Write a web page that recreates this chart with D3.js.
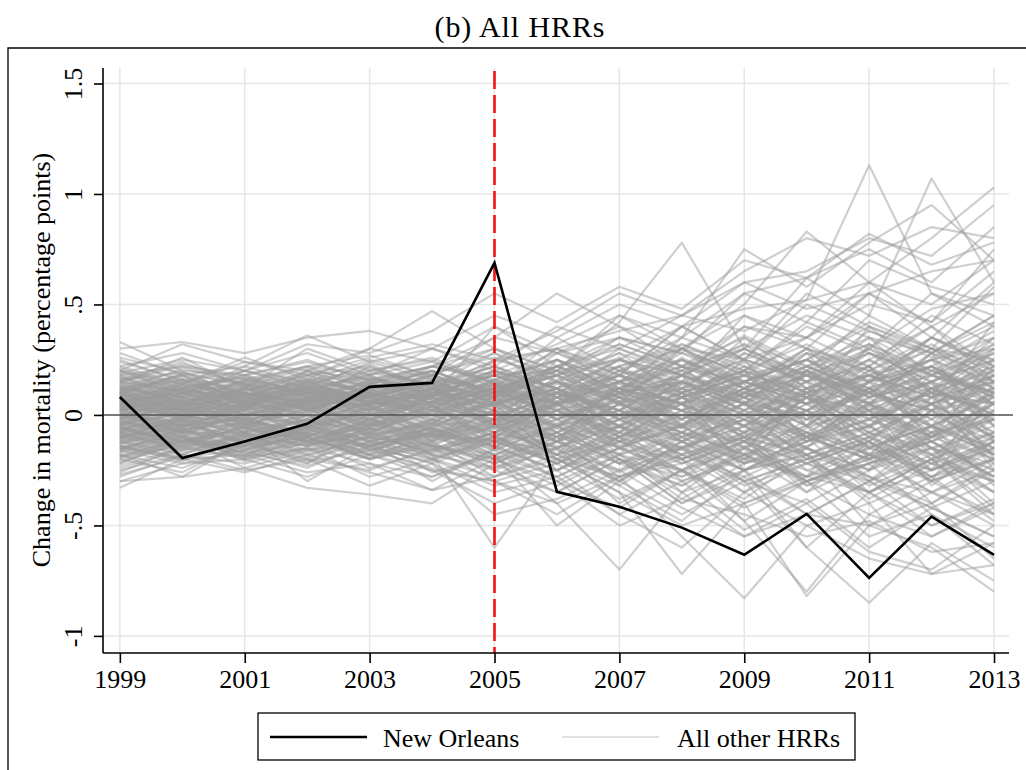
<!DOCTYPE html>
<html><head><meta charset="utf-8">
<script src="https://cdn.jsdelivr.net/npm/d3@7"></script>
<style>body{margin:0;background:#fff}svg{display:block}text{font-family:"Liberation Serif","Times New Roman",serif;fill:#000}</style>
</head><body><svg id="c" width="1026" height="770"></svg>
<script>
const years = [1999,2000,2001,2002,2003,2004,2005,2006,2007,2008,2009,2010,2011,2012,2013];
const xTicks = [1999,2001,2003,2005,2007,2009,2011,2013];
const yTicks = [-1,-0.5,0,0.5,1,1.5];
const yTickLabels = ["-1","-.5","0",".5","1","1.5"];
const eventYear = 2005;
const newOrleans = [.081,-.195,-.12,-.04,.127,.145,.688,-.348,-.416,-.51,-.633,-.448,-.738,-.46,-.633];
const otherHRRs = [
[.05,-.02,.08,.03,-.06,.10,.04,-.12,.15,.08,-.05,.20,.12,-.08,.18],
[-.10,-.04,-.12,.02,.06,-.03,-.15,.10,-.05,.22,.14,-.10,.05,.28,-.12],
[.12,.18,.05,.14,.08,.02,.16,.25,.10,.30,.18,.35,.22,.40,.15],
[-.05,-.12,-.02,-.08,-.14,-.06,-.20,-.15,-.30,-.12,-.25,-.18,-.38,-.22,-.30],
[.02,.07,-.04,.10,.00,.06,-.02,.05,-.10,.08,-.15,.02,.10,-.05,.25],
[-.15,-.08,-.18,-.05,-.12,-.20,-.10,-.22,-.05,-.30,-.18,-.10,-.35,-.20,-.45],
[.20,.10,.15,.22,.12,.18,.30,.15,.28,.10,.35,.20,.45,.30,.25],
[.00,-.05,.03,-.10,.05,-.08,.02,-.18,.10,-.05,.20,-.12,.08,.15,-.20],
[-.08,.04,-.06,.08,-.02,.12,-.05,.18,-.10,.05,-.22,.12,-.08,-.30,.10],
[.08,.14,.10,.05,.16,.08,.20,.05,.18,-.02,.12,.30,.05,.22,.38],
[-.20,-.12,-.15,-.22,-.08,-.18,-.25,-.35,-.20,-.40,-.28,-.45,-.30,-.50,-.38],
[.15,.05,.12,.18,.22,.10,.08,.28,.40,.22,.35,.15,.30,.48,.55],
[-.02,.10,.00,.06,.12,-.04,.14,-.08,.05,.18,-.12,.08,-.20,.02,-.15],
[.10,.02,.07,-.04,.02,.15,-.08,.12,-.15,.02,.25,-.05,.32,.10,.05],
[-.12,-.18,-.08,-.14,-.04,-.10,.05,-.20,-.12,-.25,-.08,-.32,-.18,-.12,-.28],
[.05,.12,.02,.20,.08,.14,.06,-.05,.12,.28,.15,.05,.40,.18,.35],
[-.06,-.14,-.10,-.02,-.16,-.08,-.22,-.08,-.28,-.15,-.35,-.22,-.12,-.40,-.25],
[.18,.22,.14,.10,.20,.25,.12,.35,.20,.15,.45,.30,.55,.35,.60],
[-.25,-.18,-.22,-.15,-.28,-.20,-.32,-.25,-.45,-.30,-.52,-.38,-.60,-.42,-.55],
[.03,-.08,.06,-.03,.09,-.12,.10,.02,-.08,.12,.00,-.15,.06,-.10,.12],
[.25,.15,.20,.28,.18,.30,.22,.40,.30,.45,.38,.52,.60,.50,.70],
[-.30,-.22,-.20,-.28,-.18,-.25,-.40,-.30,-.50,-.38,-.45,-.55,-.48,-.62,-.58],
[.07,.00,.12,.04,-.05,.08,.18,.06,.22,-.05,.15,.28,-.02,.20,.08],
[-.04,.06,-.08,.12,.02,-.06,.08,-.12,.15,.05,-.18,.20,.02,-.25,.15],
[.12,.06,.00,.08,.15,.20,-.05,.10,.02,.20,.32,.12,.18,.05,.42],
[-.08,-.02,-.14,-.06,.04,-.12,.02,-.25,-.10,-.35,-.15,-.05,-.30,-.18,-.08],
[.33,.20,.18,.25,.15,.22,.35,.28,.18,.40,.25,.50,.38,.28,.45],
[-.18,-.28,-.12,-.20,-.25,-.15,-.08,-.30,-.42,-.25,-.38,-.18,-.50,-.35,-.45],
[.09,.16,.04,.13,.06,.18,.10,.22,.08,.15,.05,.25,.42,.30,.20],
[-.10,-.02,-.06,-.12,-.02,.05,-.15,.05,-.18,.10,-.25,-.10,.02,-.32,-.12],
[.00,.08,.14,.02,.10,-.02,.12,.20,.05,.30,.12,.22,.35,.10,.28],
[-.14,-.06,-.18,-.10,-.20,-.14,-.02,-.12,.05,-.20,-.10,-.28,.05,-.15,-.35],
[.14,.26,.12,.30,.20,.14,.28,.10,.25,.18,.30,.12,.25,.40,.22],
[-.22,-.10,-.24,-.16,-.10,-.26,-.18,-.40,-.28,-.20,-.48,-.30,-.22,-.45,-.60],
[.04,-.04,.02,.08,-.08,.04,-.10,.08,-.05,-.18,.06,-.08,-.25,.08,-.18],
[.20,.32,.24,.18,.26,.32,.25,.18,.35,.28,.20,.42,.30,.55,.40],
[-.03,-.10,.04,-.06,.06,.00,.10,-.05,.12,.25,.08,.18,-.05,.12,.30],
[.06,.00,-.06,.04,-.04,.10,.00,.15,-.02,.10,.22,.05,.15,-.10,.02],
[-.16,-.22,-.16,-.24,-.12,-.30,-.15,-.05,-.22,-.12,-.30,-.40,-.25,-.15,-.40],
[.10,.04,.16,.10,.00,.06,.14,-.02,.08,-.08,.05,-.15,.12,-.02,-.18],
[-.07,.02,-.04,-.10,.00,-.08,.06,.12,.00,.15,.05,.28,.15,.35,.20],
[.16,.08,.20,.12,.24,.16,.05,.22,.12,.05,.20,.08,-.05,.18,.10],
[-.26,-.14,-.20,-.10,-.20,-.12,-.28,-.18,-.10,-.25,-.15,-.30,-.45,-.30,-.20],
[.02,.12,.06,.00,.14,.20,.10,.30,.18,.40,.25,.35,.50,.42,.65],
[-.01,-.07,.00,-.13,-.03,-.10,-.18,-.08,-.22,-.32,-.15,-.28,-.20,-.35,-.50],
[.22,.14,.26,.16,.30,.24,.40,.28,.15,.30,.45,.35,.60,.40,.55],
[-.12,-.20,-.26,-.18,-.26,-.34,-.20,-.10,-.32,-.48,-.25,-.60,-.35,-.55,-.42],
[.08,-.02,.04,.14,.06,.00,-.08,.04,.18,.02,-.10,.08,.22,-.05,.10],
[-.05,.04,.10,.02,-.08,.02,.20,.12,-.02,.08,.18,-.02,.10,.22,-.05],
[.13,.20,.08,.02,.10,.04,-.02,.10,.25,.15,.05,.22,.10,.02,.30],
[-.09,-.16,-.04,-.11,-.18,-.02,-.12,.02,-.15,-.05,.08,-.12,-.02,.10,-.25],
[.28,.18,.22,.36,.24,.30,.20,.32,.45,.35,.55,.42,.70,.58,.50],
[-.33,-.20,-.18,-.26,-.22,-.34,-.28,-.20,-.35,-.50,-.40,-.30,-.55,-.45,-.68],
[.01,.05,-.08,-.02,.08,-.05,.06,-.10,-.02,-.15,.02,-.20,-.10,.05,-.08],
[.11,.03,.09,.16,.04,.12,.22,.08,.02,.18,.10,.02,.20,.32,.15],
[-.19,-.10,-.14,-.04,-.16,-.08,-.02,-.20,-.32,-.15,-.05,-.20,-.10,-.28,-.12],
[.05,.10,.18,.08,.02,.12,-.05,.05,.15,-.05,.10,.20,.05,-.10,.22],
[-.02,-.08,-.12,.00,-.10,-.16,-.08,.08,-.10,.02,-.20,.10,-.15,-.05,.08],
[.17,.10,.05,.12,.18,.08,.12,.00,.12,.22,.00,.15,.28,.10,.02],
[-.11,.00,-.05,.05,-.05,.04,-.12,-.05,.08,-.02,.12,-.10,.05,-.18,-.02],
[.05,.02,-.04,.08,.00,.12,.25,.30,.38,.45,.60,.65,.80,.72,.95],
[-.05,.10,.02,.15,.05,.20,.10,.22,.35,.28,.55,.62,.75,.60,.85],
[.10,.05,.12,.02,.14,.10,.18,.20,.25,.40,.48,.52,1.13,.55,.45],
[-.10,-.05,-.12,-.08,-.02,-.15,-.30,-.40,-.70,-.35,-.55,-.45,-.50,-.40,-.65],
[.00,-.08,.05,-.12,-.02,-.18,-.60,-.20,-.35,-.72,-.40,-.82,-.50,-.60,-.80],
[.06,.14,.00,.10,.18,.05,.15,.25,.10,.35,.75,.58,.78,.95,.70],
[-.04,.00,-.10,-.06,-.15,-.25,-.30,-.45,-.28,-.55,-.83,-.50,-.65,-.72,-.58],
[.02,.08,.04,.12,.08,.22,.30,.20,.42,.78,.30,.62,.45,1.07,.60],
[-.08,-.15,-.05,-.12,-.20,-.08,-.25,-.15,-.40,-.25,-.48,-.80,-.45,-.55,-.40],
[.15,.10,.20,.15,.25,.18,.35,.55,.40,.30,.50,.83,.60,.80,1.03],
[-.16,-.10,-.20,-.15,-.22,-.28,-.18,-.50,-.30,-.45,-.30,-.60,-.85,-.58,-.75],
[.08,.02,.10,.05,.15,.05,.25,.38,.55,.45,.65,.80,.72,.85,.80],
[.00,.04,-.02,.06,.00,.08,.40,.22,.30,.18,.40,.35,.55,.42,.75],
[-.14,-.20,-.08,-.30,-.14,-.22,-.35,-.28,-.45,-.60,-.35,-.50,-.40,-.72,-.68],
[.10,.18,.06,.20,.30,.47,.30,.20,.45,.30,.25,.55,.40,.30,.58],
[.04,.12,.07,.10,.03,.08,.02,.12,-.08,.18,.05,-.10,.15,.25,-.05],
[-.06,-.02,-.09,-.14,-.06,-.12,-.06,-.18,-.02,-.12,.10,.00,-.22,-.08,-.30],
[.19,.12,.16,.08,.14,.22,.15,.05,.20,.12,.30,.18,.05,.28,.12],
[-.13,-.05,-.02,-.09,-.15,-.05,-.18,-.28,-.15,-.05,-.18,-.35,-.12,-.25,-.15],
[.07,-.03,.02,.07,.12,.02,.08,-.04,.10,-.10,-.02,.15,-.18,.05,.18],
[-.02,.04,.08,-.02,.05,.14,-.05,.02,-.12,.08,-.08,.05,.22,-.12,.05],
[.12,.08,.02,.18,.10,.04,.12,.18,.05,.12,.20,.08,-.05,.12,-.12],
[-.18,-.12,-.06,-.14,-.08,-.18,-.10,-.02,-.20,-.28,-.12,-.22,-.35,-.20,-.10],
[.00,.06,-.02,.04,-.06,.03,-.10,.06,-.14,-.04,-.12,.08,-.10,-.22,.02],
[.24,.16,.10,.20,.12,.20,.10,.18,.28,.18,.08,.28,.20,.10,.35],
[-.07,-.13,-.03,-.07,.03,-.04,.12,-.02,.06,-.12,.00,-.18,-.05,.05,-.22],
[.03,.09,.15,.06,-.03,.10,.02,-.08,.05,.12,-.05,.10,.18,.02,.12],
[-.24,-.16,-.10,-.18,-.10,-.04,-.14,-.25,-.10,-.20,-.35,-.15,-.28,-.42,-.30],
[.09,.01,.05,-.05,.07,.16,.05,.15,.02,-.08,.15,.25,.10,-.02,.18],
[-.04,-.11,-.07,.03,-.10,-.02,-.08,.02,-.10,.05,-.05,.02,-.12,.12,-.02],
[.15,.22,.18,.24,.16,.10,.18,.08,.22,.32,.22,.10,.30,.18,.05],
[-.10,-.06,-.16,-.08,-.14,-.22,-.12,-.16,-.25,-.10,-.22,-.08,-.18,-.30,-.45],
[.01,-.05,-.01,.09,.04,-.07,.08,.10,.02,.15,.08,-.05,.02,.15,.28],
[.18,.05,.10,.06,.22,.12,.00,.08,-.02,.06,-.10,.05,-.15,-.02,.10],
[-.20,-.26,-.12,-.22,-.04,-.14,-.22,-.10,-.18,-.30,-.20,-.28,-.10,-.22,-.12],
[.06,.11,-.01,.06,.10,.00,.14,.03,-.05,.08,.18,.12,.25,.08,.18],
[-.01,-.06,.06,.01,-.09,.06,-.05,.25,.10,.02,-.08,.20,.02,-.10,.05],
[.11,.17,.11,.17,.09,.14,.22,.12,.30,.20,.08,.15,.02,.15,.25],
[-.15,-.09,-.19,-.06,-.18,-.10,-.04,-.15,-.02,-.18,-.28,-.15,-.30,-.08,-.20],
[.04,-.01,.04,-.06,.01,-.10,.02,-.05,.02,-.10,.02,-.08,.08,-.15,-.05],
[-.30,-.28,-.24,-.33,-.36,-.40,-.22,-.35,-.20,-.40,-.25,-.45,-.30,-.42,-.55],
[.30,.33,.28,.35,.38,.30,.45,.35,.50,.40,.60,.48,.55,.65,.70],
[-.28,-.18,-.25,-.20,-.32,-.22,-.45,-.38,-.25,-.42,-.55,-.40,-.62,-.70,-.50],
[.22,.28,.20,.32,.28,.38,.55,.42,.58,.48,.70,.62,.82,.68,.78],
[.06,.10,.03,.12,.05,.09,.14,.02,.18,.08,.24,.10,.16,.30,.12],
[-.03,-.09,.01,-.05,-.11,-.02,-.10,-.22,-.08,-.16,-.02,-.25,-.15,-.05,-.32],
[.13,.06,.15,.09,.17,.11,.04,.16,.26,.10,.20,.32,.18,.08,.25],
[-.12,-.04,-.10,-.16,-.06,-.14,-.18,-.06,-.20,-.32,-.18,-.08,-.28,-.40,-.22],
[.02,.14,.08,.16,.10,.04,.12,.30,.12,.20,.36,.22,.10,.28,.45],
[-.08,-.16,-.11,-.04,-.13,-.20,-.28,-.12,-.30,-.18,-.10,-.35,-.22,-.12,-.28],
[.09,.03,-.03,.05,.11,.07,.00,-.10,.05,-.06,.12,.00,-.12,.08,-.02],
[-.05,.01,.05,-.03,-.07,.09,.18,.06,-.06,.14,.02,.18,.30,.12,.20],
[.16,.24,.13,.21,.14,.19,.26,.15,.08,.25,.12,.30,.15,.22,.05],
[-.17,-.09,-.21,-.12,-.24,-.16,-.05,-.18,-.30,-.12,-.25,-.14,-.05,-.18,-.35],
[.00,-.03,.09,-.01,.03,-.05,.06,-.06,.12,-.04,.05,-.12,.04,-.20,.06],
[.10,.18,.10,.02,.12,.20,.08,.22,.14,.05,.28,.15,.35,.20,.10],
[-.21,-.13,-.17,-.23,-.14,-.08,-.20,-.32,-.18,-.38,-.22,-.15,-.32,-.20,-.42],
[.04,.09,.01,.11,.06,.13,.03,.12,-.02,.15,.02,.20,.08,.14,-.05],
[-.09,-.03,-.13,-.05,.01,-.07,-.12,.00,-.15,-.05,-.20,-.02,-.14,.02,-.18],
[.21,.13,.17,.10,.19,.14,.24,.30,.20,.35,.25,.18,.38,.26,.40],
[-.01,.07,-.05,.03,-.09,-.03,.05,-.08,.08,-.12,.00,.10,-.08,.05,-.10],
[.07,.01,.13,.07,.15,.05,.16,.05,.20,.10,-.05,.12,.22,.00,.15],
[-.14,-.21,-.09,-.17,-.07,-.15,-.24,-.15,-.05,-.22,-.12,-.30,-.18,-.25,-.12],
[.12,.16,.07,.04,.09,.17,.09,.20,.06,.26,.12,.05,.20,.35,.22],
[-.06,-.12,-.14,-.09,-.04,-.11,.02,-.10,.02,-.08,-.18,-.06,.05,-.12,.00],
[.03,.05,.11,.14,.07,.01,.10,.15,.22,.08,.15,.25,.12,.05,.18],
[-.27,-.19,-.13,-.21,-.16,-.24,-.30,-.22,-.38,-.25,-.42,-.30,-.18,-.35,-.25],
[.17,.09,.22,.14,.20,.26,.14,.04,.15,.20,.05,.18,.28,.15,.32],
[-.04,-.08,.00,.05,-.05,.04,-.02,.10,-.05,.05,.15,.05,-.06,.12,.00],
[.08,.15,.05,.09,.02,.11,.20,.08,.12,-.02,.10,-.05,.15,.05,-.10],
[-.11,-.18,-.07,-.02,-.12,-.06,-.15,-.25,-.12,-.02,-.15,-.25,-.35,-.20,-.30],
[.01,-.04,.06,.10,.14,.08,-.04,.08,.18,.25,.12,.02,.18,.25,.35],
[-.16,-.07,-.11,-.19,-.09,-.17,-.08,-.14,-.26,-.14,-.30,-.20,-.12,-.30,-.16],
[.14,.04,.09,.15,.07,.03,.12,-.02,.10,.15,.02,.10,-.02,.08,.15],
[-.02,.05,-.03,-.08,.03,.12,.04,.14,.06,-.08,.08,-.05,.12,-.06,.10],
[.26,.19,.14,.22,.27,.17,.10,.25,.15,.32,.20,.40,.28,.18,.30],
[-.07,-.01,-.08,.00,-.12,-.06,-.16,-.05,-.18,-.08,-.12,-.22,-.30,-.15,-.22],
[.05,.13,.09,.03,.08,.16,.12,.02,.09,.18,.06,-.02,.12,.22,.08],
[-.23,-.15,-.19,-.11,-.18,-.28,-.16,-.28,-.15,-.26,-.14,-.32,-.22,-.12,-.28],
[.10,.00,.04,.12,-.02,.06,.10,.18,.05,-.05,.18,.08,.25,.12,.00],
[-.10,-.14,-.02,-.12,-.05,.02,-.06,.05,.12,.02,-.05,.10,.00,-.10,.06],
[.19,.25,.20,.13,.23,.12,.20,.12,.25,.18,.32,.22,.12,.35,.25],
[.00,-.06,-.04,.02,-.02,-.09,-.12,-.20,-.05,-.15,-.25,-.10,-.20,-.05,-.15],
[.07,.04,.14,.05,.09,.04,.06,.10,.00,.10,-.02,.08,.02,.10,-.08],
[-.13,-.07,-.15,-.10,-.17,-.05,-.02,.02,-.10,.00,-.12,.02,-.18,-.10,.02],
[.03,.10,.05,.15,.11,.18,.28,.18,.32,.22,.40,.30,.22,.45,.32],
[-.18,-.24,-.14,-.10,-.20,-.13,-.22,-.12,-.20,-.35,-.25,-.18,-.40,-.28,-.48],
[.12,.07,.00,.07,.04,-.02,.06,-.05,.02,-.12,-.02,-.18,-.08,-.15,-.25],
[-.03,.02,.07,-.04,.06,.02,-.03,.06,.15,.05,.10,.22,.10,.18,.08],
[.09,.19,.13,.19,.13,.07,.12,.22,.10,.15,.25,.15,.05,.15,.25],
[-.08,-.10,-.17,-.13,-.08,-.16,-.10,-.18,-.28,-.22,-.12,-.30,-.20,-.10,-.20],
[.15,.11,.08,.13,.05,.09,.15,.08,.15,.25,.15,.08,.18,.30,.15],
[-.19,-.14,-.05,-.16,-.13,-.09,-.05,-.12,.00,-.10,.05,-.10,-.02,-.15,-.08],
[.04,.00,.10,.02,.11,.14,.08,.18,.08,.00,.12,.20,.32,.20,.10],
[-.06,-.01,.02,-.07,-.01,-.14,-.20,-.30,-.18,-.25,-.40,-.28,-.35,-.50,-.40],
[.20,.14,.24,.20,.16,.22,.18,.28,.35,.22,.30,.45,.35,.28,.42],
[-.11,-.05,-.01,-.10,-.19,-.12,-.02,-.05,-.15,-.20,-.10,-.18,-.28,-.35,-.20],
[.02,.08,-.02,.01,.05,.10,-.06,.05,.10,.15,.05,.00,.10,.02,.20],
[-.15,-.20,-.12,-.07,-.11,-.19,-.12,-.22,-.12,-.08,-.22,-.12,-.05,-.25,-.12],
[.11,.05,.16,.11,.06,.13,.22,.12,.02,.18,.30,.18,.10,.25,.15],
[.14,.08,.11,.18,.10,.15,.08,.18,.25,.12,.28,.18,.10,.25,.30],
[-.09,-.13,-.06,-.12,-.16,-.09,-.14,-.25,-.15,-.28,-.18,-.30,-.22,-.15,-.28],
[.05,.15,.09,.06,.13,.05,.12,.05,-.08,.10,.20,-.05,.15,.22,.05],
[-.13,-.02,-.09,-.05,-.01,-.13,-.05,-.15,.00,-.20,-.08,-.15,-.25,-.05,-.18],
[.08,.12,.17,.10,.06,.12,.18,.10,.20,.30,.18,.25,.15,.35,.22],
[-.02,-.10,-.05,.06,-.04,.04,-.08,.05,-.12,.00,-.15,.08,-.10,.00,-.12],
[.18,.11,.06,.15,.21,.13,.06,.20,.12,.05,.22,.10,.28,.15,.05],
[-.17,-.11,-.19,-.15,-.06,-.20,-.12,-.08,-.22,-.15,-.05,-.22,-.12,-.28,-.20],
[.02,.03,.03,.11,.01,.09,.15,-.02,.12,.05,-.08,.12,.00,.10,.20],
[-.05,-.15,-.09,-.02,-.09,-.04,.02,-.12,-.05,-.18,-.08,.02,-.15,-.25,-.10],
[.11,.21,.14,.08,.16,.22,.16,.25,.15,.22,.10,.22,.32,.18,.28],
[-.11,-.01,-.03,-.11,-.05,.00,-.10,.02,-.08,.08,-.02,-.12,.02,-.08,.05],
[.06,-.01,.08,.03,.09,.00,.05,.12,.02,-.05,.10,.02,-.08,.05,.15],
[-.22,-.12,-.16,-.09,-.15,-.21,-.10,-.20,-.28,-.18,-.30,-.20,-.35,-.25,-.15],
[.13,.08,.03,.13,.08,.18,.10,.02,.10,.18,.08,.18,.05,.12,.00],
[-.07,-.04,-.12,-.06,-.14,-.08,-.04,-.10,.05,-.06,.05,-.08,-.18,.02,-.10],
[.01,.12,.04,.07,.04,.12,.02,.10,.18,.08,.15,.05,.18,.08,.22],
[-.15,-.08,-.08,-.18,-.10,-.14,-.20,-.08,-.18,-.10,-.25,-.12,-.05,-.20,-.08],
[.09,.03,.12,.02,.14,.07,.12,.20,.10,.22,.12,.02,.15,.25,.12],
[-.03,-.07,-.01,-.04,.00,-.06,-.14,-.04,-.12,-.22,-.10,-.18,-.08,-.18,-.30],
[.16,.19,.09,.16,.11,.06,.14,.05,.15,.05,.15,.25,.08,.18,.10],
[-.10,-.17,-.12,-.08,-.18,-.11,-.05,-.18,-.08,-.15,-.02,-.10,-.20,-.12,-.02],
[.04,.07,.00,.08,.10,.02,.10,.00,.06,.14,.25,.15,.22,.05,.12],
[-.19,-.11,-.14,-.20,-.12,-.18,-.24,-.12,-.22,-.08,-.18,-.28,-.15,-.22,-.35],
[.10,.16,.12,.05,.08,.14,.05,.15,.08,.02,.08,-.02,.10,.02,.08],
[-.01,.03,-.06,.00,-.07,.01,.08,-.02,.10,.02,.12,.20,.08,.15,.00],
[.20,.12,.18,.12,.17,.09,.20,.12,.22,.30,.15,.25,.40,.28,.18],
[-.08,-.03,-.11,-.14,-.03,-.09,-.12,-.22,-.10,-.05,-.22,-.12,-.02,-.12,-.25],
[.05,.11,.07,.13,.02,.06,.00,.08,-.05,.12,.00,.12,.05,-.05,.08],
[-.14,-.19,-.16,-.05,-.14,-.07,-.16,-.05,-.15,-.25,-.12,-.05,-.18,-.28,-.15],
[.12,.02,.06,.10,.05,.11,.16,.08,.18,.10,.20,.10,.18,.08,.15],
[-.04,.01,-.02,-.09,-.06,-.10,-.02,.10,.00,.10,.00,-.10,-.20,-.08,-.02],
[.07,.13,.05,.03,.12,.15,.07,.15,.05,-.02,.10,.18,.08,.20,.32],
[-.16,-.06,-.13,-.12,-.02,-.07,-.18,-.12,-.25,-.15,-.32,-.22,-.12,-.30,-.20],
[.02,-.05,.03,.07,-.02,.08,.00,-.12,-.02,.05,-.10,.00,.12,-.05,-.15],
[.15,.23,.16,.22,.18,.24,.14,.22,.32,.22,.15,.30,.20,.12,.22],
[-.12,-.07,-.04,-.13,-.10,-.17,-.08,-.15,-.05,-.12,-.20,-.08,-.15,-.05,-.18],
[.03,.06,.13,.04,.08,-.01,.10,.05,.12,.02,.15,.08,-.02,.10,.05],
[-.06,-.12,-.08,-.03,-.12,-.04,-.12,-.02,-.12,-.20,-.05,-.15,-.25,-.10,-.02],
[.08,.02,.09,.12,.03,.10,.04,.12,.00,.08,.18,.05,.12,.22,.10]
];
const legendLabels = ["New Orleans","All other HRRs"];

const svg = d3.select("#c");
const x = d3.scaleLinear().domain([1998.73, 2013.24]).range([103, 1009]);
const y = d3.scaleLinear().domain([-1.0774, 1.5701]).range([653, 68]);
const FS = "26px";

// outer frame
svg.append("path").attr("d","M8,770 V48 H1026").attr("fill","none").attr("stroke","#000").attr("stroke-width",1.3);

// title
svg.append("text").attr("x",520).attr("y",37).attr("text-anchor","middle").style("font-size","30px")
  .style("letter-spacing","0.9px").text("(b) All HRRs");

// grid
const g = svg.append("g");
g.selectAll(".gy").data(yTicks).join("line")
  .attr("x1",103).attr("x2",1009).attr("y1",d=>y(d)).attr("y2",d=>y(d))
  .attr("stroke","#e6e6e6").attr("stroke-width",1.5);
g.selectAll(".gx").data(xTicks).join("line")
  .attr("x1",d=>x(d)).attr("x2",d=>x(d)).attr("y1",68).attr("y2",653)
  .attr("stroke","#e6e6e6").attr("stroke-width",1.5);

const line = d3.line().x((d,i)=>x(years[i])).y(d=>y(d));

// other HRRs
svg.append("g").selectAll("path").data(otherHRRs).join("path")
  .attr("d",line).attr("fill","none").attr("stroke","#9a9a9a")
  .attr("stroke-opacity",0.48).attr("stroke-width",2.2).attr("stroke-linejoin","round");

// zero line
svg.append("line").attr("x1",103).attr("x2",1013).attr("y1",y(0)).attr("y2",y(0))
  .attr("stroke","#555").attr("stroke-width",1.6);

// event line
svg.append("line").attr("x1",x(eventYear)).attr("x2",x(eventYear)).attr("y1",71).attr("y2",653)
  .attr("stroke","#f01414").attr("stroke-width",2.6).attr("stroke-dasharray","18,6");

// New Orleans
svg.append("path").datum(newOrleans).attr("d",line).attr("fill","none")
  .attr("stroke","#000").attr("stroke-width",2.6).attr("stroke-linejoin","miter");

// axes
const yAxis = d3.axisLeft(y).tickValues(yTicks).tickFormat((d,i)=>yTickLabels[i]).tickSize(9).tickSizeOuter(0);
const ya = svg.append("g").attr("transform","translate(103,0)").call(yAxis);
ya.select(".domain").attr("stroke","#000").attr("stroke-width",1.6).attr("d","M0,68V653");
ya.selectAll(".tick line").attr("stroke","#000").attr("stroke-width",1.6);
ya.selectAll(".tick text").attr("transform","rotate(-90)").attr("x",0).attr("y",-21).attr("dy",0)
  .attr("text-anchor","middle").style("font-size",FS).style("font-family","Liberation Serif, serif").attr("fill","#000");

const xAxis = d3.axisBottom(x).tickValues(xTicks).tickFormat(d3.format("d")).tickSize(10).tickSizeOuter(0);
const xa = svg.append("g").attr("transform","translate(0,653)").call(xAxis);
xa.select(".domain").attr("stroke","#000").attr("stroke-width",1.6).attr("d","M103,0H1009");
xa.selectAll(".tick line").attr("stroke","#000").attr("stroke-width",1.6);
xa.selectAll(".tick text").attr("y",35).attr("dy",0).style("font-size",FS).style("font-family","Liberation Serif, serif").attr("fill","#000");

// y title
svg.append("text").attr("transform","translate(50,360) rotate(-90)").attr("text-anchor","middle")
  .style("font-size",FS).text("Change in mortality (percentage points)");

// legend
const lg = svg.append("g");
lg.append("rect").attr("x",258).attr("y",713).attr("width",597).attr("height",47)
  .attr("fill","#fff").attr("stroke","#000").attr("stroke-width",1.3);
lg.append("line").attr("x1",270).attr("x2",367).attr("y1",737).attr("y2",737).attr("stroke","#000").attr("stroke-width",2.6);
lg.append("text").attr("x",383).attr("y",747).style("font-size",FS).text(legendLabels[0]);
lg.append("line").attr("x1",562).attr("x2",659).attr("y1",737).attr("y2",737).attr("stroke","#e0e0e0").attr("stroke-width",2.2);
lg.append("text").attr("x",677).attr("y",747).style("font-size",FS).text(legendLabels[1]);
</script></body></html>
